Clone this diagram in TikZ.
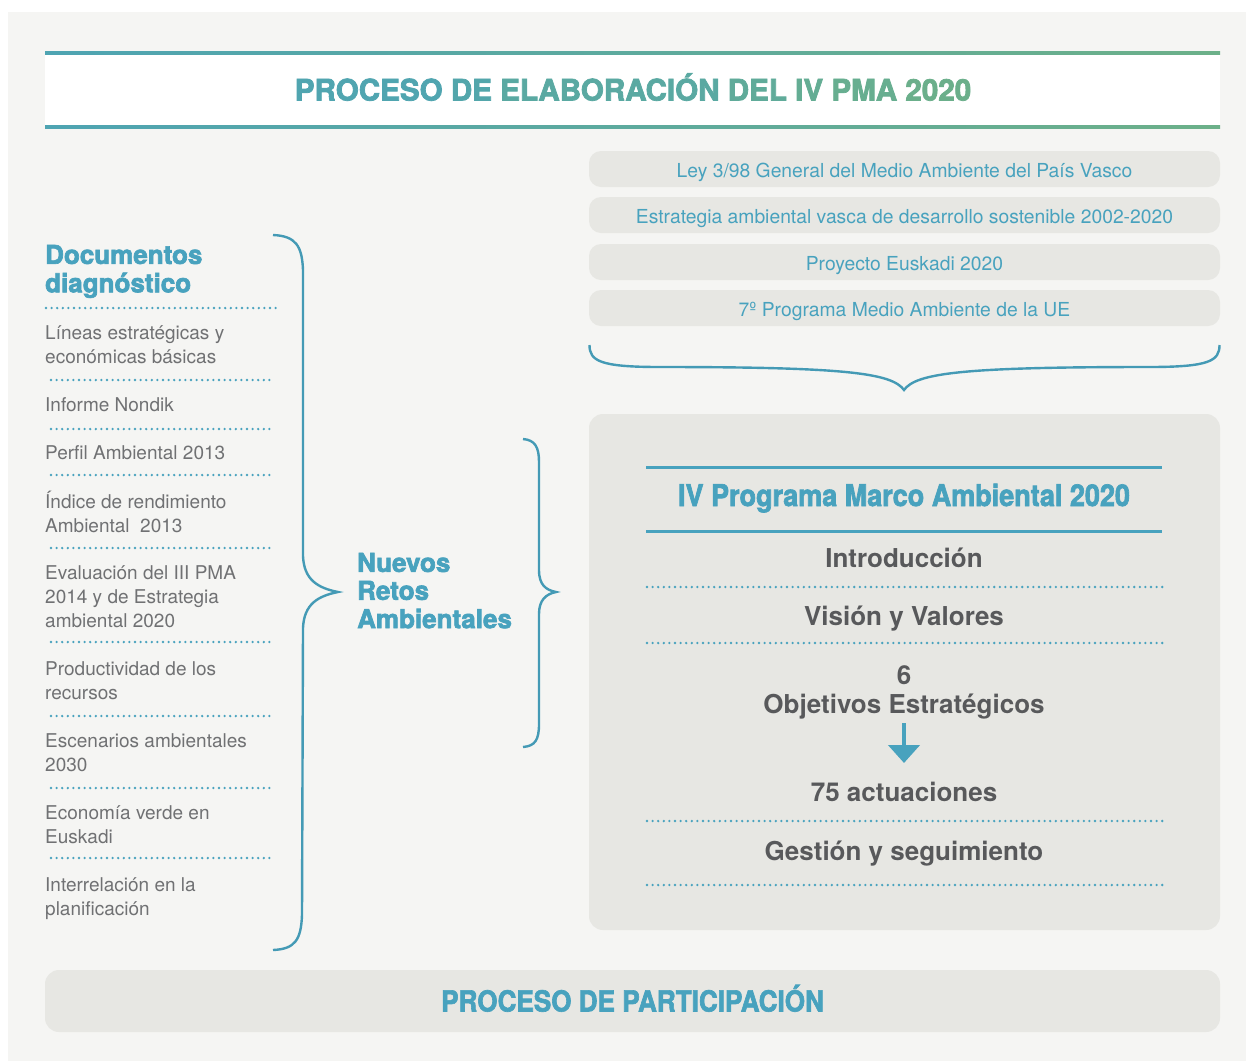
\documentclass[tikz,border=0pt]{standalone}
\usepackage{fontspec}
\setmainfont{TeX Gyre Heros}
\newfontfamily\hv{TeX Gyre Heros}[BoldFeatures={FakeBold=2.6}]
\newfontfamily\hvc{TeX Gyre Heros}[BoldFeatures={FakeBold=2.2,FakeStretch=0.9}]
\usetikzlibrary{arrows.meta}
\definecolor{bg}{HTML}{F5F5F3}
\definecolor{boxg}{HTML}{E7E7E3}
\definecolor{blu}{HTML}{48A2BE}
\definecolor{tA}{HTML}{4EA4B2}
\definecolor{tB}{HTML}{6CB089}
\definecolor{dk}{HTML}{58595B}
\definecolor{lt}{HTML}{707173}
\colorlet{c1}{tA!95!tB}
\colorlet{c2}{tA!82!tB}
\colorlet{c3}{tA!62!tB}
\colorlet{c4}{tA!40!tB}
\colorlet{c5}{tA!28!tB}
\colorlet{c6}{tA!16!tB}
\colorlet{c7}{tA!4!tB}
\tikzset{
  dotline/.style={blu, line width=2.6pt, line cap=round, dash pattern=on 0pt off 5.6pt},
  solidline/.style={blu, line width=3pt},
  bracestyle/.style={blu!95!black, line width=2.4pt},
  topbox/.style={fill=boxg, rounded corners=12pt, minimum width=631pt, minimum height=36pt,
     inner ysep=0pt, text height=16.5pt, text depth=0pt, text=blu, font=\fontsize{19.3}{19}\selectfont},
  itemtext/.style={anchor=west, align=left, inner sep=0pt, text=lt, font=\fontsize{19}{24}\selectfont},
  bighead/.style={anchor=west, align=left, inner sep=0pt, text=blu, font=\hv\bfseries\fontsize{26}{26}\selectfont},
  boxitem/.style={anchor=base, inner sep=0pt, text=dk, font=\bfseries\fontsize{26}{29}\selectfont},
}
\begin{document}
\begin{tikzpicture}[x=1pt,y=-1pt]
\useasboundingbox (0,0) rectangle (1246,1061);
\fill[white] (0,0) rectangle (1246,1061);
\fill[bg] (8,12) rectangle (1246,1061);

% title band
\fill[white] (45,54) rectangle (1220,125);
\fill[left color=tA, right color=tB] (45,51) rectangle (1220,54);
\fill[left color=tA, right color=tB] (45,125) rectangle (1220,128);
\node[anchor=base, inner sep=0pt, font=\hv\bfseries\fontsize{29.6}{29}\selectfont] (title) at (633,100.5)
 {\textcolor{c1}{PROCESO} \textcolor{c2}{DE} \textcolor{c3}{ELABORACIÓN} \textcolor{c4}{DEL} \textcolor{c5}{IV} \textcolor{c6}{PMA} \textcolor{c7}{2020}};

% left column
\node[bighead] (doc) at (45,272.5) {\strut Documentos\\\strut diagnóstico};
\draw[dotline] (46,308) -- (278,308);
\node[itemtext] (i1) at (45,347) {\strut Líneas estratégicas y\\\strut económicas básicas};
\draw[dotline] (51,380) -- (273,380);
\node[itemtext] (i2) at (45,407) {\strut Informe Nondik};
\draw[dotline] (51,429) -- (273,429);
\node[itemtext] (i3) at (45,455) {\strut Perfil Ambiental 2013};
\draw[dotline] (51,475) -- (273,475);
\node[itemtext] (i4) at (45,515) {\strut Índice de rendimiento\\\strut Ambiental~~2013};
\draw[dotline] (51,548) -- (273,548);
\node[itemtext] (i5) at (45,599) {\strut Evaluación del III PMA\\\strut 2014 y de Estrategia\\\strut ambiental 2020};
\draw[dotline] (51,642) -- (273,642);
\node[itemtext] (i6) at (45,683) {\strut Productividad de los\\\strut recursos};
\draw[dotline] (51,716) -- (273,716);
\node[itemtext] (i7) at (45,755) {\strut Escenarios ambientales\\\strut 2030};
\draw[dotline] (51,788) -- (273,788);
\node[itemtext] (i8) at (45,827) {\strut Economía verde en\\\strut Euskadi};
\draw[dotline] (51,858) -- (273,858);
\node[itemtext] (i9) at (45,899) {\strut Interrelación en la\\\strut planificación};

% left brace
\draw[bracestyle] (273,235) .. controls (296,236) and (302,246) .. (303,270)
  -- (303,556) .. controls (304,580) and (318,588) .. (338,592)
  .. controls (318,596) and (304,604) .. (303,628)
  -- (302,915) .. controls (301,940) and (295,949) .. (273,950);

% middle
\node[bighead, font=\hv\bfseries\fontsize{26}{26.5}\selectfont] (retos) at (357,594.5) {\strut Nuevos\\\strut Retos\\\strut Ambientales};
\draw[bracestyle] (523,439) .. controls (535,440) and (539,447) .. (539,462)
  -- (539,570) .. controls (539,585) and (546,590) .. (556,592)
  .. controls (546,594) and (539,600) .. (539,614)
  -- (539,724) .. controls (539,740) and (535,746) .. (523,747);

% top right boxes
\node[topbox] (b1) at (904.5,169) {Ley 3/98 General del Medio Ambiente del País Vasco};
\node[topbox] (b2) at (904.5,215) {Estrategia ambiental vasca de desarrollo sostenible 2002-2020};
\node[topbox] (b3) at (904.5,262) {Proyecto Euskadi 2020};
\node[topbox] (b4) at (904.5,308) {7º Programa Medio Ambiente de la UE};

% horizontal brace
\draw[bracestyle] (589.5,345) .. controls (589.5,361) and (600,367) .. (660,367)
  .. controls (845,367) and (892,373) .. (904,390)
  .. controls (916,373) and (963,367) .. (1149,367)
  .. controls (1209,367) and (1219.5,361) .. (1219.5,345);

% big box
\node[fill=boxg, rounded corners=14pt, minimum width=631pt, minimum height=516pt, inner sep=0pt] (prog) at (904.5,672) {};
\draw[solidline] (646,467) -- (1162,467);
\node[anchor=base, inner sep=0pt, text=blu, font=\hvc\bfseries\fontsize{30}{30}\selectfont] (ph) at (904,506) {IV Programa Marco Ambiental 2020};
\draw[solidline] (646,531) -- (1162,531);
\node[boxitem] (intro) at (904,567) {Introducción};
\draw[dotline] (647,587) -- (1163,587);
\node[boxitem] (vis) at (904,625) {Visión y Valores};
\draw[dotline] (647,643) -- (1163,643);
\node[boxitem, align=center] (obj) at (904,713) {6\\Objetivos Estratégicos};
\coordinate (arrS) at (904,723);
\coordinate (arrE) at (904,763);
\draw[blu, line width=4.5pt, -{Triangle[width=31pt,length=18pt]}] (arrS) -- (arrE);
\node[boxitem] (act) at (904,801) {75 actuaciones};
\draw[dotline] (647,821) -- (1163,821);
\node[boxitem] (ges) at (904,860) {Gestión y seguimiento};
\draw[dotline] (647,885) -- (1163,885);

% bottom box
\node[fill=boxg, rounded corners=14pt, minimum width=1175pt, minimum height=62pt, inner ysep=0pt,
  text height=21pt, text depth=0pt, text=blu, font=\hvc\bfseries\fontsize{29}{29}\selectfont] (part) at (632.5,1001) {PROCESO DE PARTICIPACIÓN};
\end{tikzpicture}
\end{document}
